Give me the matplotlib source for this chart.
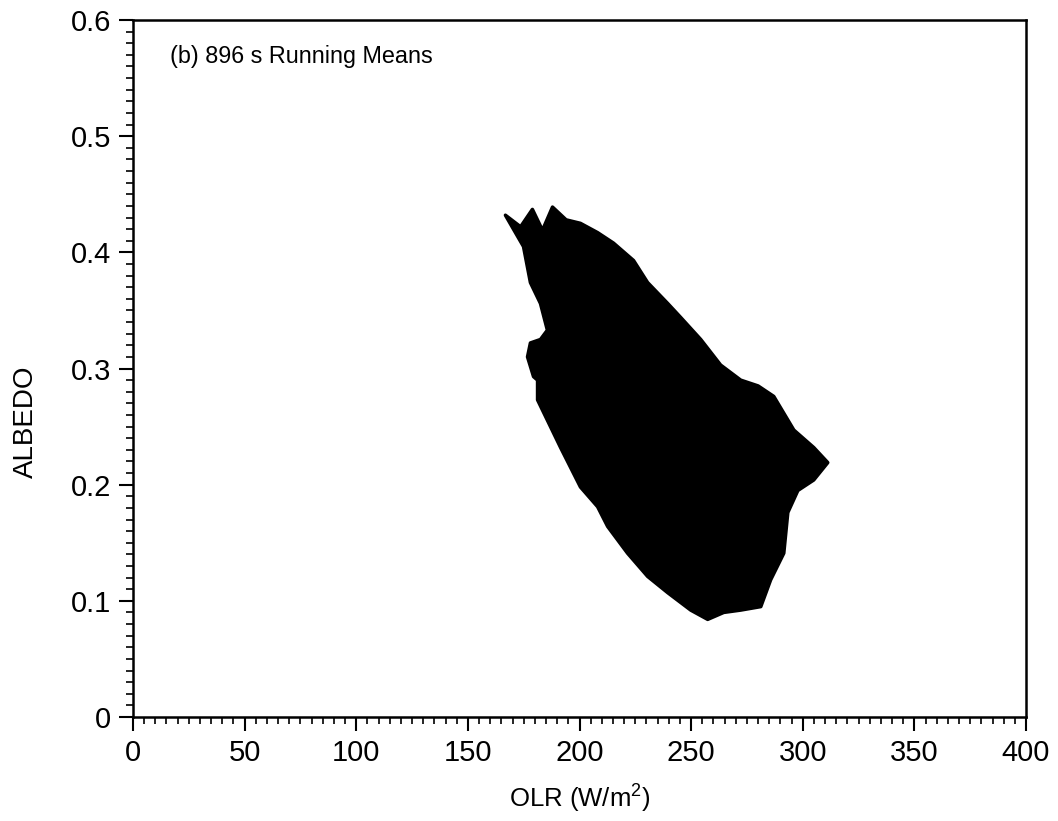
import matplotlib
matplotlib.use("Agg")
import matplotlib.pyplot as plt
from matplotlib.ticker import MultipleLocator

plt.rcParams['font.family'] = ['Liberation Sans', 'DejaVu Sans']
plt.rcParams['mathtext.fontset'] = 'custom'
plt.rcParams['mathtext.rm'] = 'Liberation Sans'
plt.rcParams['mathtext.it'] = 'Liberation Sans'

# outline of the dense trajectory cloud (OLR, albedo)
olr_outline = [166.8, 173.6, 178.9, 183.4, 187.9, 194.0, 200.4, 208.1, 215.2,
               224.2, 230.5, 239.5, 245.3, 254.3, 263.2, 272.2, 280.0, 287.0,
               296.0, 304.9, 311.2, 304.9, 297.8, 293.3, 291.5, 285.6, 281.2,
               272.2, 264.6, 257.4, 249.8, 239.5, 230.5, 221.5, 212.6, 208.1,
               200.4, 191.5, 181.2, 181.2, 179.4, 176.7, 178.0, 182.5, 185.6,
               182.5, 178.0, 174.9]
albedo_outline = [0.432, 0.422, 0.437, 0.419, 0.439, 0.428, 0.425, 0.417, 0.408,
                  0.393, 0.374, 0.356, 0.344, 0.325, 0.303, 0.290, 0.285, 0.276,
                  0.247, 0.232, 0.219, 0.204, 0.195, 0.176, 0.141, 0.118, 0.095,
                  0.092, 0.090, 0.084, 0.092, 0.107, 0.121, 0.141, 0.164, 0.181,
                  0.198, 0.232, 0.273, 0.290, 0.293, 0.310, 0.322, 0.325, 0.333,
                  0.356, 0.374, 0.405]

xticks = [0, 50, 100, 150, 200, 250, 300, 350, 400]
yticks = [0, 0.1, 0.2, 0.3, 0.4, 0.5, 0.6]
ytick_labels = ['0', '0.1', '0.2', '0.3', '0.4', '0.5', '0.6']

fig = plt.figure(figsize=(10.58, 8.21), dpi=100)
ax = fig.add_axes([0.1257, 0.1267, 0.8441, 0.8489])

ax.fill(olr_outline, albedo_outline, color='black', edgecolor='black',
        linewidth=2.5, joinstyle='round')

ax.set_xlim(0, 400)
ax.set_ylim(0, 0.6)
ax.set_xticks(xticks)
ax.set_yticks(yticks)
ax.set_yticklabels(ytick_labels)
ax.xaxis.set_minor_locator(MultipleLocator(5))
ax.yaxis.set_minor_locator(MultipleLocator(0.01))
ax.tick_params(which='major', direction='out', length=10, width=1.5,
               labelsize=21, pad=6, top=False, right=False)
ax.tick_params(which='minor', direction='out', length=5, width=1.2,
               top=False, right=False)
for s in ax.spines.values():
    s.set_linewidth(1.8)

ax.set_xlabel('OLR (W/m$^2$)', fontsize=18.5)
ax.xaxis.set_label_coords(0.5, -0.095)
ax.set_ylabel('ALBEDO', fontsize=20)
ax.yaxis.set_label_coords(-0.105, 0.423)

ax.text(0.041, 0.947, '(b) 896 s Running Means', transform=ax.transAxes,
        fontsize=16.8, va='center', ha='left')

fig.savefig('out.png', dpi=100)
